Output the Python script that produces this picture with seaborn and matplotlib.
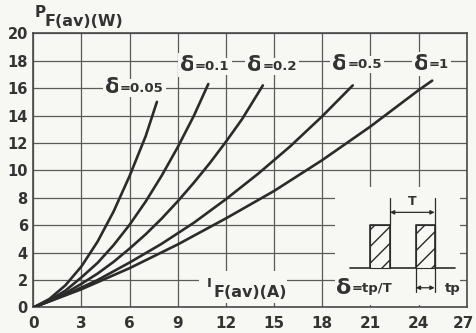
import numpy as np
import pandas as pd
import matplotlib
matplotlib.use("Agg")
import matplotlib.pyplot as plt
import matplotlib.transforms as mtransforms
import seaborn as sns
from matplotlib.patches import Rectangle

# ---- data ----
duty_labels = ["0.05", "0.1", "0.2", "0.5", "1"]
i_005 = [0, 1, 2, 3, 4, 5, 6, 7, 7.7]
p_005 = [0, 0.62, 1.62, 3.0, 4.8, 7.0, 9.6, 12.5, 15.0]
i_01 = [0, 1, 2, 3, 4, 5, 6, 7, 8, 9, 10, 10.9]
p_01 = [0, 0.52, 1.23, 2.2, 3.25, 4.55, 6.04, 7.73, 9.62, 11.7, 13.98, 16.3]
i_02 = [0, 1, 2, 3, 4, 5, 6, 7, 8, 9, 10, 11, 12, 13, 14.3]
p_02 = [0, 0.47, 1.04, 1.73, 2.47, 3.33, 4.3, 5.34, 6.49, 7.75, 9.1, 10.54, 12.09, 13.73, 16.2]
i_05 = [0, 2, 4, 6, 8, 10, 12, 14, 16, 18, 19.9]
p_05 = [0, 0.92, 2.0, 3.28, 4.65, 6.18, 7.9, 9.75, 11.75, 13.95, 16.2]
i_1 = [0, 3, 6, 9, 12, 15, 18, 21, 24, 24.85]
p_1 = [0, 1.33, 2.87, 4.6, 6.5, 8.5, 10.75, 13.2, 15.85, 16.55]
x_ticks = [0, 3, 6, 9, 12, 15, 18, 21, 24, 27]
y_ticks = [0, 2, 4, 6, 8, 10, 12, 14, 16, 18, 20]

series_i = [i_005, i_01, i_02, i_05, i_1]
series_p = [p_005, p_01, p_02, p_05, p_1]
rows = []
for lab, xs, ys in zip(duty_labels, series_i, series_p):
    for k, (a, b) in enumerate(zip(xs, ys)):
        rows.append({"delta": lab, "I": a, "P": b, "order": k})
df = pd.DataFrame(rows)

# ---- style ----
BG = "#f7f7f4"
INK = "#2b2b2b"
TXT = "#333333"
GRID = "#5a5a5a"
sns.set_style("white")
plt.rcParams["font.family"] = ["DejaVu Sans"]

fig = plt.figure(figsize=(4.76, 3.33), dpi=100, facecolor=BG)
ax = fig.add_axes([0.070, 0.0766, 0.9105, 0.8234], facecolor=BG)

sns.lineplot(data=df, x="I", y="P", hue="delta", units="delta", estimator=None,
             sort=False, palette=[INK] * 5, linewidth=1.9, legend=False, ax=ax,
             zorder=4)

ax.set_xlim(0, 27)
ax.set_ylim(0, 20)
ax.set_xticks(x_ticks)
ax.set_yticks(y_ticks)
ax.set_xticklabels([str(v) for v in x_ticks], fontsize=11, fontweight="bold", color=TXT)
ax.set_yticklabels([str(v) for v in y_ticks], fontsize=10.5, fontweight="bold", color=TXT)
ax.tick_params(axis="x", length=0, pad=6)
ax.tick_params(axis="y", length=0, pad=4)
last = ax.get_xticklabels()[-1]
last.set_transform(last.get_transform() + mtransforms.ScaledTranslation(-3 / 100, 0, fig.dpi_scale_trans))
ax.set_xlabel("")
ax.set_ylabel("")
ax.set_axisbelow(True)
ax.grid(True, color=GRID, linewidth=0.9)
for s in ax.spines.values():
    s.set_visible(True)
    s.set_color("#4a4a4a")
    s.set_linewidth(1.2)

# ---- curve labels ----
lab_x = [5.4, 10.07, 14.28, 19.55, 24.65]
lab_y = [15.75, 17.35, 17.35, 17.45, 17.45]
box = dict(facecolor=BG, edgecolor="none", pad=1.5)
for lab, lx, ly in zip(duty_labels, lab_x, lab_y):
    ax.text(lx, ly - 0.1, "\u03b4", ha="right", va="baseline", fontsize=16,
            fontweight="bold", color=TXT, bbox=box, zorder=3)
    ax.text(lx, ly, "=" + lab, ha="left", va="baseline", fontsize=9.5,
            fontweight="bold", color=TXT, bbox=box, zorder=3)

# ---- x-axis label inside plot ----
ax.add_patch(Rectangle((10.3, 0.35), 5.5, 2.3, facecolor=BG, edgecolor="none", zorder=2))
ax.text(10.8, 1.52, "I", ha="left", va="baseline", fontsize=9.5, fontweight="bold",
        color=TXT, zorder=3)
ax.text(11.2, 0.79, "F(av)(A)", ha="left", va="baseline", fontsize=11.5,
        fontweight="bold", color=TXT, zorder=3)

# ---- y-axis label ----
fig.text(35 / 476, 1 - 17 / 333, "P", ha="left", va="baseline", fontsize=11,
         fontweight="bold", color=TXT)
fig.text(45 / 476, 1 - 26 / 333, "F(av)(W)", ha="left", va="baseline", fontsize=11.5,
         fontweight="bold", color=TXT)

# ---- pulse inset ----
ax.add_patch(Rectangle((18.8, 0.2), 7.8, 8.6, facecolor=BG, edgecolor="none", zorder=2))
lw = 1.2
base = 2.9
top = 6.0
for x0, x1 in [(21.0, 22.22), (23.83, 25.0)]:
    ax.add_patch(Rectangle((x0, base), x1 - x0, top - base, facecolor="none",
                           edgecolor=INK, hatch="//", linewidth=0.8, zorder=4))
px = [19.73, 21.0, 21.0, 22.22, 22.22, 23.83, 23.83, 25.0, 25.0, 26.27]
py = [base, base, top, top, base, base, top, top, base, base]
ax.plot(px, py, color=INK, lw=lw, zorder=5)
# T dimension
ax.plot([22.22, 22.22], [top, 8.0], color=INK, lw=0.9, zorder=5)
ax.plot([25.0, 25.0], [1.15, 8.0], color=INK, lw=0.9, zorder=5)
ax.annotate("", xy=(22.22, 6.94), xytext=(25.0, 6.94),
            arrowprops=dict(arrowstyle="<|-|>", color=INK, lw=0.9,
                            mutation_scale=6, shrinkA=0, shrinkB=0), zorder=5)
ax.text(23.6, 7.75, "T", ha="center", va="center", fontsize=9, fontweight="bold",
        color=TXT, zorder=5)
# tp dimension
ax.plot([23.83, 23.83], [1.15, base], color=INK, lw=0.9, zorder=5)
ax.annotate("", xy=(23.83, 1.44), xytext=(25.0, 1.44),
            arrowprops=dict(arrowstyle="<|-|>", color=INK, lw=0.9,
                            mutation_scale=6, shrinkA=0, shrinkB=0), zorder=5)
ax.text(26.15, 1.39, "tp", ha="center", va="center", fontsize=9.5, fontweight="bold",
        color=TXT, zorder=5)
ax.text(19.8, 1.0, "\u03b4", ha="right", va="baseline", fontsize=16,
        fontweight="bold", color=TXT, zorder=5)
ax.text(19.85, 1.15, "=tp/T", ha="left", va="baseline", fontsize=9.5,
        fontweight="bold", color=TXT, zorder=5)

fig.savefig("out.png", dpi=100, facecolor=BG)
